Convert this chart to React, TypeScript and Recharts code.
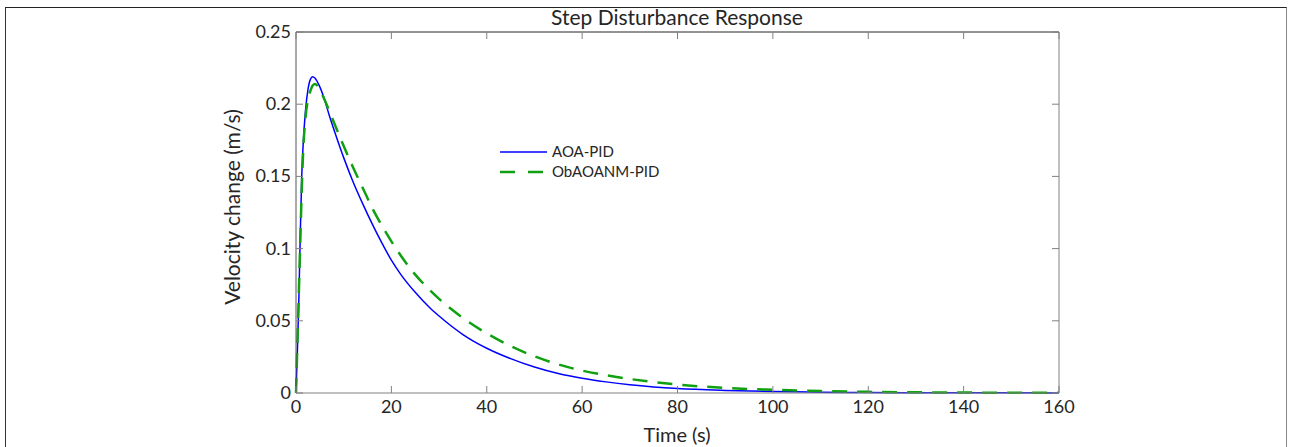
import React from "react";
import { LineChart, Line, XAxis, YAxis } from "recharts";

const timeS = [0, 0.3, 0.6, 0.9, 1.2, 1.5, 2, 2.5, 3, 3.5, 4, 5, 6, 7, 8, 10, 12, 14, 16, 18, 20, 22, 25, 28, 30, 35, 40, 45, 50, 55, 60, 65, 70, 75, 80, 90, 100, 110, 120, 130, 140, 150, 160];
const aoaPid = [0, 0.03, 0.065, 0.11, 0.15, 0.172, 0.196, 0.21, 0.217, 0.219, 0.218, 0.212, 0.203, 0.192, 0.182, 0.163, 0.146, 0.131, 0.117, 0.104, 0.092, 0.082, 0.0697, 0.0592, 0.0533, 0.0405, 0.031, 0.0238, 0.018, 0.0135, 0.0102, 0.0077, 0.0057, 0.0042, 0.0031, 0.0018, 0.001, 0.0006, 0.0003, 0.0002, 0.0001, 0.0001, 0];
const obAoanmPid = [0, 0.035, 0.07, 0.105, 0.14, 0.167, 0.191, 0.203, 0.209, 0.213, 0.214, 0.21, 0.203, 0.195, 0.187, 0.171, 0.156, 0.142, 0.128, 0.116, 0.105, 0.095, 0.082, 0.0715, 0.0652, 0.052, 0.0413, 0.0325, 0.0254, 0.0198, 0.0155, 0.0123, 0.0097, 0.0076, 0.0059, 0.0035, 0.0022, 0.0013, 0.0008, 0.0005, 0.0003, 0.0002, 0.0001];
const xTicks = [0, 20, 40, 60, 80, 100, 120, 140, 160];
const yTicks = [0, 0.05, 0.1, 0.15, 0.2, 0.25];
const seriesNames = ["AOA-PID", "ObAOANM-PID"];

const data = timeS.map((t, i) => ({ t, a: aoaPid[i], b: obAoanmPid[i] }));

const FONT = "Lato, 'Open Sans', sans-serif";
const TXT = "#262626";
const TL = 7;

const BottomTick = (p: any) => (
  <g>
    <line x1={p.x} y1={p.y} x2={p.x} y2={p.y - TL} stroke="#808080" strokeWidth={1} />
    <text x={p.x} y={p.y + 20} textAnchor="middle" fontFamily={FONT} fontSize={18} fill={TXT}>
      {p.payload.value}
    </text>
  </g>
);
const TopTick = (p: any) => (
  <line x1={p.x} y1={p.y} x2={p.x} y2={p.y + TL} stroke="#808080" strokeWidth={1} />
);
const LeftTick = (p: any) => (
  <g>
    <line x1={p.x} y1={p.y} x2={p.x + TL} y2={p.y} stroke="#808080" strokeWidth={1} />
    <text x={p.x - 5} y={p.y + 6} textAnchor="end" fontFamily={FONT} fontSize={18} fill={TXT}>
      {p.payload.value}
    </text>
  </g>
);
const RightTick = (p: any) => (
  <line x1={p.x} y1={p.y} x2={p.x - TL} y2={p.y} stroke="#808080" strokeWidth={1} />
);

export default function App() {
  return (
    <div style={{ position: "absolute", left: 0, top: 0, width: 1295, height: 447, background: "#fff", overflow: "hidden" }}>
      <div
        style={{
          position: "absolute",
          left: 5,
          top: 7,
          width: 1282,
          height: 500,
          borderTop: "1.5px solid #222",
          borderLeft: "1.5px solid #333",
          borderRight: "1.5px solid #888",
          boxSizing: "border-box",
        }}
      />
      <LineChart
        width={1295}
        height={447}
        data={data}
        margin={{ top: 22, left: 246, right: 226, bottom: 24 }}
        style={{ position: "absolute", left: 0, top: 0 }}
      >
        <XAxis
          xAxisId="bottom"
          dataKey="t"
          type="number"
          domain={[0, 160]}
          ticks={xTicks}
          height={30}
          tickSize={0}
          tickMargin={0}
          tickLine={false}
          tick={BottomTick}
          stroke="#808080"
          interval={0}
        />
        <XAxis
          xAxisId="top"
          orientation="top"
          dataKey="t"
          type="number"
          domain={[0, 160]}
          ticks={xTicks}
          height={10}
          tickSize={0}
          tickMargin={0}
          tickLine={false}
          tick={TopTick}
          stroke="#262626"
          interval={0}
        />
        <YAxis
          yAxisId="left"
          type="number"
          domain={[0, 0.25]}
          ticks={yTicks}
          width={50}
          tickSize={0}
          tickMargin={0}
          tickLine={false}
          tick={LeftTick}
          stroke="#555"
          interval={0}
        />
        <YAxis
          yAxisId="right"
          orientation="right"
          type="number"
          domain={[0, 0.25]}
          ticks={yTicks}
          width={10}
          tickSize={0}
          tickMargin={0}
          tickLine={false}
          tick={RightTick}
          stroke="#808080"
          interval={0}
        />
        <Line
          xAxisId="top"
          yAxisId="right"
          dataKey="a"
          stroke="none"
          dot={false}
          activeDot={false}
          legendType="none"
          isAnimationActive={false}
        />
        <Line
          xAxisId="bottom"
          yAxisId="left"
          type="monotone"
          dataKey="a"
          name={seriesNames[0]}
          stroke="#0000ff"
          strokeWidth={1.5}
          dot={false}
          isAnimationActive={false}
        />
        <Line
          xAxisId="bottom"
          yAxisId="left"
          type="monotone"
          dataKey="b"
          name={seriesNames[1]}
          stroke="#11a011"
          strokeWidth={2.5}
          strokeDasharray="15 10"
          dot={false}
          isAnimationActive={false}
        />
      </LineChart>
      <svg width={200} height={44} style={{ position: "absolute", left: 495, top: 141 }}>
        <line x1={5} y1={11} x2={52} y2={11} stroke="#0000ff" strokeWidth={1.5} />
        <text x={57} y={16} fontFamily={FONT} fontSize={15} fill={TXT}>{seriesNames[0]}</text>
        <line x1={5} y1={31} x2={52} y2={31} stroke="#11a011" strokeWidth={2.5} strokeDasharray="15 13" />
        <text x={57} y={36} fontFamily={FONT} fontSize={15} fill={TXT}>{seriesNames[1]}</text>
      </svg>
      <div style={{ position: "absolute", left: 477, width: 400, top: 5, textAlign: "center", fontFamily: FONT, fontSize: 21, color: TXT, lineHeight: "24px" }}>
        Step Disturbance Response
      </div>
      <div style={{ position: "absolute", left: 577, width: 200, top: 422, textAlign: "center", fontFamily: FONT, fontSize: 20, color: TXT, lineHeight: "24px" }}>
        Time (s)
      </div>
      <div
        style={{
          position: "absolute",
          left: 232 - 150,
          top: 207 - 12,
          width: 300,
          textAlign: "center",
          fontFamily: FONT,
          fontSize: 21,
          color: TXT,
          lineHeight: "24px",
          transform: "rotate(-90deg)",
          transformOrigin: "150px 12px",
        }}
      >
        Velocity change (m/s)
      </div>
    </div>
  );
}
